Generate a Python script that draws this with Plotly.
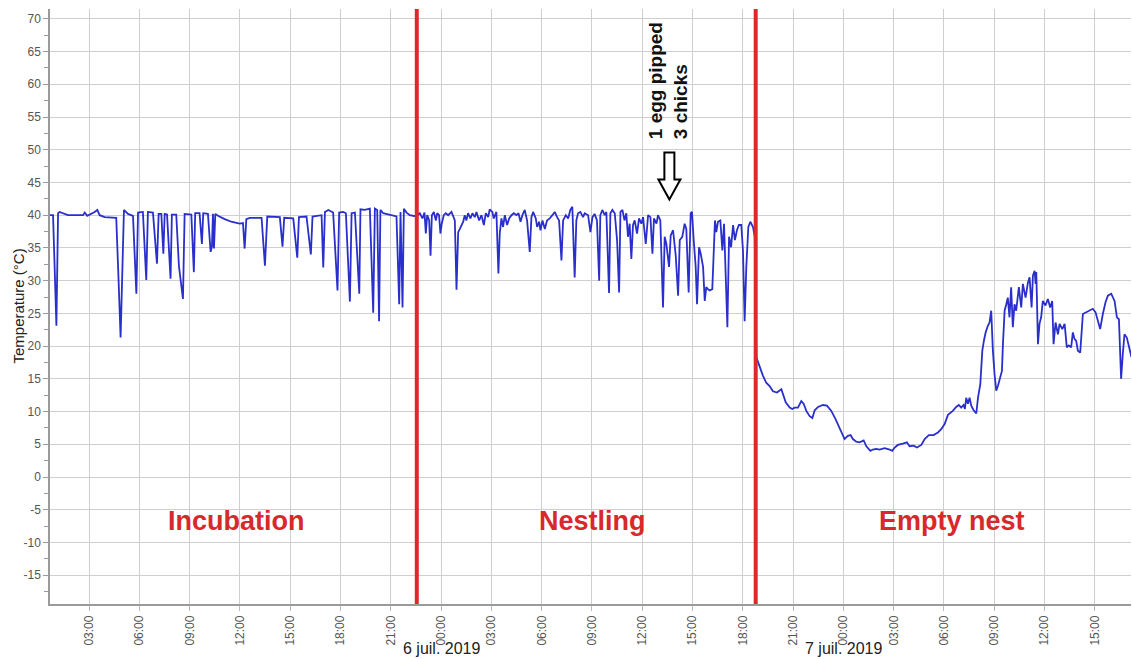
import plotly.graph_objects as go
import pandas as pd

# ---------------- data (hours since 2019-07-05 00:00, temperature in °C) ----------------
incubation_h = [0.65, 0.85, 1.05, 1.15, 1.24, 1.74, 2.64, 2.74, 2.89, 3.13, 3.33, 3.49, 3.63, 3.93, 4.52,
                4.62, 4.76, 4.88, 5.08, 5.32, 5.62, 5.82, 5.92, 6.21, 6.41, 6.51, 6.81, 7.05, 7.15, 7.31,
                7.43, 7.51, 7.65, 7.86, 7.94, 8.20, 8.36, 8.60, 8.70, 9.10, 9.25, 9.33, 9.59, 9.73, 9.81,
                10.09, 10.25, 10.33, 10.39, 10.45, 10.53, 10.69, 11.09, 11.48, 11.98, 12.18, 12.28, 12.38,
                12.59, 13.29, 13.49, 13.63, 14.38, 14.54, 14.64, 15.18, 15.42, 15.52, 15.97, 16.23, 16.33,
                16.87, 16.97, 17.07, 17.27, 17.56, 17.82, 17.92, 18.16, 18.32, 18.56, 18.66, 18.86, 19.12,
                19.19, 19.45, 19.75, 19.95, 20.05, 20.19, 20.30, 20.38, 20.55, 20.94, 21.34, 21.50, 21.58,
                21.70, 21.78, 21.94, 22.13, 22.53]
incubation_t = [40.0, 40.0, 23.1, 40.3, 40.5, 40.0, 40.0, 40.4, 39.9, 40.2, 40.5, 40.8, 40.0, 39.7, 39.6,
                39.6, 30.0, 21.3, 40.8, 40.2, 39.9, 28.0, 40.4, 40.5, 30.1, 40.5, 40.4, 32.6, 40.2, 40.2,
                34.1, 40.2, 40.1, 30.3, 40.1, 40.1, 32.2, 27.2, 40.2, 40.1, 31.3, 40.3, 40.3, 35.6, 40.3,
                40.2, 34.4, 35.2, 40.2, 34.9, 40.2, 39.9, 39.4, 39.0, 38.7, 38.8, 34.9, 39.4,
                39.6, 39.6, 32.3, 39.8, 39.7, 35.2, 39.6, 39.5, 33.5, 39.7, 39.8, 34.0, 39.8,
                40.0, 32.0, 40.5, 40.8, 40.4, 28.5, 40.4, 40.5, 40.3, 26.8, 40.3, 40.4, 28.0,
                40.9, 40.8, 41.0, 25.1, 41.0, 40.8, 23.8, 40.8, 40.3, 40.0, 39.8, 26.4, 40.5,
                25.9, 41.0, 40.4, 40.0, 39.8]

nestling_h = [22.73, 22.89, 23.01, 23.09, 23.17, 23.29, 23.37, 23.45, 23.57, 23.69, 23.77, 23.88, 23.96,
              24.04, 24.16, 24.28, 24.42, 24.62, 24.76, 24.82, 24.92, 25.02, 25.12, 25.32, 25.41, 25.51,
              25.61, 25.75, 25.87, 26.01, 26.11, 26.27, 26.41, 26.55, 26.67, 26.81, 26.90, 27.06, 27.14,
              27.30, 27.42, 27.50, 27.60, 27.70, 27.80, 27.94, 28.06, 28.20, 28.34, 28.50, 28.62, 28.74,
              28.85, 28.99, 29.13, 29.29, 29.39, 29.49, 29.65, 29.73, 29.85, 29.93, 30.05, 30.19, 30.32,
              30.48, 30.64, 30.78, 30.92, 31.04, 31.18, 31.28, 31.44, 31.58, 31.71, 31.83, 31.97, 32.07,
              32.17, 32.31, 32.47, 32.57, 32.77, 32.91, 33.03, 33.16, 33.30,
              33.43, 33.50, 33.62, 33.76, 33.86, 34.02, 34.10, 34.22, 34.36, 34.50, 34.62, 34.70, 34.82,
              34.94, 35.05, 35.15, 35.25, 35.35, 35.45, 35.55, 35.69, 35.81, 35.95, 36.05, 36.21, 36.35,
              36.49, 36.61, 36.70, 36.85, 36.94, 37.08, 37.24, 37.34, 37.44, 37.60, 37.70, 37.84, 38.00,
              38.14, 38.24, 38.39, 38.53, 38.63, 38.77, 38.89, 38.97, 39.07, 39.19, 39.27, 39.39, 39.49,
              39.63, 39.73, 39.82, 39.92, 40.02, 40.18, 40.26, 40.34, 40.42, 40.52, 40.66, 40.78, 40.88,
              40.98, 41.08, 41.18, 41.30, 41.42, 41.53, 41.65, 41.77, 41.91, 42.01, 42.11, 42.21, 42.33,
              42.45, 42.61, 42.71]
nestling_t = [40.3, 39.5, 40.4, 37.2, 40.0, 39.2, 33.8, 40.0, 40.5, 39.2, 40.3, 40.0, 37.2,
              38.7, 40.0, 40.3, 40.0, 40.5, 39.7, 39.2, 28.6, 37.4, 37.9, 39.0, 40.0, 39.2,
              40.3, 39.5, 40.3, 39.7, 40.5, 39.2, 40.0, 38.5, 40.3, 39.7, 40.9, 40.5, 39.5,
              40.5, 31.1, 37.2, 39.5, 38.2, 40.0, 38.5, 39.5, 40.0, 40.3, 40.0, 40.3, 39.0,
              40.0, 40.8, 39.2, 34.4, 39.7, 40.5, 39.5, 38.2, 39.0, 37.7, 39.2, 37.9, 39.2,
              39.5, 40.0, 40.5, 39.7, 39.2, 33.1, 39.2, 40.0, 39.5, 40.8, 41.3, 30.5, 39.2,
              40.3, 40.5, 39.7, 40.3, 40.0, 37.4, 39.7, 40.2, 39.2,
              30.0, 40.0, 40.8, 40.0, 40.5, 28.1, 40.3, 40.8, 40.3, 36.2, 28.2, 40.5, 40.8,
              39.2, 40.3, 36.7, 38.7, 33.3, 38.5, 39.2, 37.2, 39.5, 38.7, 39.7, 35.6, 40.0,
              39.7, 34.1, 39.5, 38.7, 40.0, 39.2, 25.9, 36.7, 35.6, 32.1, 36.9, 37.7, 33.8,
              27.7, 36.2, 36.7, 38.7, 37.9, 28.2, 40.3, 40.5, 36.2, 32.1, 26.4, 35.1, 34.1,
              32.1, 26.9, 29.0, 28.7, 28.5, 28.7, 34.6, 39.2, 37.4, 39.0, 39.2, 34.6, 38.7,
              30.5, 22.9, 36.7, 35.1, 38.5, 36.2, 37.7, 38.5, 38.5, 34.6, 23.8, 32.1, 38.2,
              39.0, 38.2, 36.7]

empty_h = [42.81, 42.91, 43.05, 43.20, 43.40, 43.60, 43.80, 44.04, 44.30, 44.40, 44.56, 44.80, 44.95,
           45.09, 45.29, 45.49, 45.63, 45.79, 45.99, 46.15, 46.29, 46.49, 46.78, 47.02, 47.28, 47.54,
           47.74, 47.88, 48.07, 48.27, 48.43, 48.57, 48.77, 48.97, 49.21, 49.37, 49.61, 49.76, 49.96,
           50.16, 50.46, 50.76, 50.92, 51.06, 51.25, 51.55, 51.79, 51.95, 52.19, 52.39, 52.65, 52.85,
           53.10, 53.38, 53.64, 53.84, 54.04, 54.24, 54.53, 54.73, 54.89, 55.03, 55.17, 55.25, 55.33,
           55.43, 55.53, 55.63, 55.77, 55.93, 56.03, 56.17, 56.29, 56.39, 56.49, 56.62, 56.72, 56.82,
           56.86, 56.92, 57.02, 57.12, 57.22, 57.36, 57.46, 57.52, 57.62, 57.72, 57.81, 57.91, 58.01,
           58.11, 58.21, 58.31, 58.47, 58.61, 58.71, 58.87, 59.01, 59.11, 59.23, 59.31, 59.41, 59.47,
           59.51, 59.61, 59.70, 59.80, 59.90, 60.06, 60.20, 60.34, 60.46, 60.54, 60.66, 60.80, 60.90,
           61.06, 61.20, 61.33, 61.45, 61.59, 61.69, 61.79, 61.89, 61.99, 62.13, 62.29, 62.49, 62.68,
           62.88, 63.04, 63.18, 63.32, 63.48, 63.64, 63.78, 63.98, 64.18, 64.32, 64.44, 64.57, 64.67,
           64.77, 64.91, 65.03, 65.19]
empty_t = [18.3, 17.5, 16.7, 15.5, 14.4, 13.9, 13.1, 12.9, 13.4, 12.7, 11.4, 10.6, 10.4,
           10.6, 10.6, 11.6, 11.2, 10.1, 9.3, 9.0, 10.2, 10.7, 11.0, 10.9, 10.1, 8.8,
           7.6, 6.8, 5.8, 6.3, 6.4, 5.8, 5.4, 5.3, 5.6, 4.7, 4.0, 4.2, 4.3,
           4.2, 4.4, 4.2, 4.0, 4.5, 4.9, 5.1, 5.3, 4.7, 4.8, 4.5, 4.9, 5.8,
           6.4, 6.4, 6.8, 7.3, 8.1, 9.5, 10.1, 10.7, 11.0, 10.6, 11.0, 10.4, 12.1,
           11.2, 12.1, 10.9, 10.2, 9.7, 12.1, 14.2, 19.3, 20.9, 22.1, 23.1, 23.6, 25.4,
           21.3, 19.3, 15.7, 13.2, 13.9, 15.2, 16.2, 20.3, 25.4, 26.4, 27.4, 24.4, 29.0,
           22.9, 26.4, 25.4, 29.0, 25.9, 29.5, 27.4, 29.7, 30.5, 25.9, 30.8, 31.5, 29.5,
           31.3, 20.3, 23.4, 24.4, 26.9, 26.2, 27.2, 25.9, 26.9, 20.3, 23.6, 21.8, 23.4,
           22.6, 23.4, 19.8, 20.1, 19.8, 22.1, 21.1, 20.8, 19.3, 19.0, 24.9, 25.2, 25.4,
           25.7, 25.2, 23.9, 22.6, 24.9, 26.7, 27.7, 28.0, 26.9, 24.4, 24.1, 15.0, 18.8,
           21.8, 21.3, 19.8, 18.3]

phase_bounds_h = [22.55, 42.77]            # red separators
phase_labels = ["Incubation", "Nestling", "Empty nest"]
phase_label_h = [11.77, 33.05, 54.51]
phase_label_t = -6.7
event_h = 37.55
event_text = "1 egg pipped<br>3 chicks"
date_labels = ["6 juil. 2019", "7 juil. 2019"]
date_label_h = [24.0, 48.0]
x_range_h = [0.668, 65.16]
y_range = [-19.4, 71.5]
y_tick_vals = list(range(-15, 75, 5))
y_tick_text = [str(v) for v in y_tick_vals]   # plain hyphen minus as in the original
y_title = "Temperature (°C)"

base = pd.Timestamp("2019-07-05 00:00")
def to_time(h):
    return base + pd.to_timedelta(h, unit="h")

hours = incubation_h + nestling_h + empty_h
temps = incubation_t + nestling_t + empty_t
times = [to_time(h) for h in hours]

FONT = "Liberation Sans, Arial, sans-serif"
RED = "#e0282a"

fig = go.Figure()
fig.add_trace(go.Scatter(x=times, y=temps, mode="lines",
                         line=dict(color="#2a2fcc", width=1.8),
                         hoverinfo="x+y", showlegend=False))

# red phase separators
for h in phase_bounds_h:
    fig.add_shape(type="line", xref="x", yref="paper",
                  x0=to_time(h), x1=to_time(h), y0=0, y1=1,
                  line=dict(color=RED, width=4))

# phase labels
for lab, h in zip(phase_labels, phase_label_h):
    fig.add_annotation(x=to_time(h), y=phase_label_t, xref="x", yref="y",
                       text="<b>%s</b>" % lab, showarrow=False,
                       font=dict(family=FONT, size=27, color="#d9282b"),
                       xanchor="center", yanchor="middle")

# event annotation (rotated text + hollow arrow)
fig.add_annotation(x=to_time(event_h), y=60.5, xref="x", yref="y",
                   text="<b>%s</b>" % event_text, textangle=-90, showarrow=False,
                   align="left", font=dict(family=FONT, size=19, color="#111111"),
                   xanchor="center", yanchor="middle")
fig.add_shape(type="path", xref="x", yref="y",
              xsizemode="pixel", ysizemode="pixel",
              xanchor=to_time(event_h + 0.07), yanchor=42.4,
              path="M 0 0 L -11 20 L -5 20 L -5 47 L 5 47 L 5 20 L 11 20 Z",
              line=dict(color="#000000", width=2), fillcolor="white")

# date labels below the axis
for lab, h in zip(date_labels, date_label_h):
    fig.add_annotation(x=to_time(h), y=-0.074, xref="x", yref="paper",
                       text=lab, showarrow=False,
                       font=dict(family=FONT, size=16, color="#222222"),
                       xanchor="center", yanchor="middle")

# y-axis title
fig.add_annotation(x=0, y=0.5, xref="paper", yref="paper", xshift=-32,
                   text=y_title, textangle=-90, showarrow=False,
                   font=dict(family=FONT, size=15, color="#222222"),
                   xanchor="center", yanchor="middle")

fig.update_layout(
    width=1132, height=659,
    margin=dict(l=50, r=1, t=9, b=55),
    paper_bgcolor="white", plot_bgcolor="white",
    font=dict(family=FONT, color="#555555"),
)
fig.update_xaxes(
    type="date", range=[to_time(x_range_h[0]), to_time(x_range_h[1])],
    tick0="2019-07-05 03:00", dtick=3 * 3600 * 1000, tickformat="%H:%M",
    tickangle=-90, tickfont=dict(size=12, color="#555555"),
    showgrid=True, gridcolor="#cfcfcf", gridwidth=1,
    showline=True, linecolor="#9a9a9a", linewidth=1.5,
    ticks="outside", ticklen=5, tickcolor="#bbbbbb",
    zeroline=False,
)
fig.update_yaxes(
    range=y_range, tickmode="array", tickvals=y_tick_vals, ticktext=y_tick_text,
    tickfont=dict(size=12, color="#555555"),
    showgrid=True, gridcolor="#cfcfcf", gridwidth=1,
    showline=True, linecolor="#9a9a9a", linewidth=1.5,
    ticks="outside", ticklen=5, tickcolor="#9a9a9a",
    minor=dict(tick0=0, dtick=2.5, ticks="outside", ticklen=4, tickcolor="#9a9a9a", showgrid=False),
    zeroline=False,
)

fig.write_html("out.html")
